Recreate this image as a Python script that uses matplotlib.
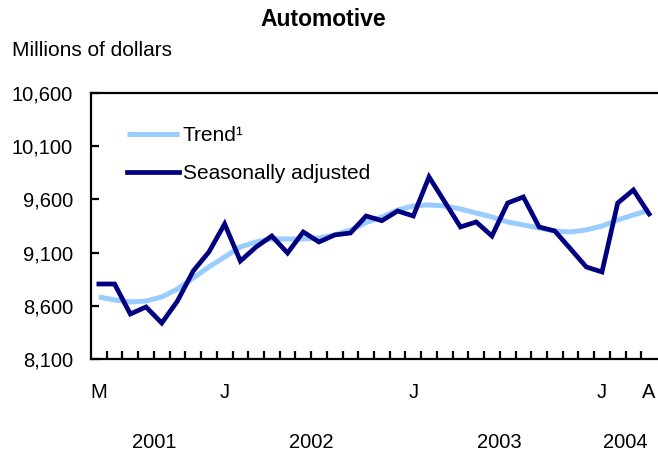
import numpy as np
import matplotlib
matplotlib.use("Agg")
import matplotlib.pyplot as plt
import matplotlib.transforms as mtransforms

plt.rcParams['font.family'] = ['Liberation Sans', 'DejaVu Sans']

# monthly, May 2001 .. April 2004
months = ['M', 'J', 'J', 'A', 'S', 'O', 'N', 'D',
          'J', 'F', 'M', 'A', 'M', 'J', 'J', 'A', 'S', 'O', 'N', 'D',
          'J', 'F', 'M', 'A', 'M', 'J', 'J', 'A', 'S', 'O', 'N', 'D',
          'J', 'F', 'M', 'A']
years = ['2001'] * 8 + ['2002'] * 12 + ['2003'] * 12 + ['2004'] * 4
shown_months = [0, 8, 20, 32, 35]

seasonally_adjusted = [8805, 8805, 8523, 8589, 8438, 8645, 8927, 9106,
                       9369, 9021, 9153, 9256, 9096, 9294, 9200, 9266,
                       9284, 9444, 9400, 9491, 9444, 9811, 9576, 9341,
                       9388, 9256, 9566, 9623, 9341, 9303, 9135, 8965,
                       8918, 9566, 9689, 9463]
trend = [8683, 8655, 8636, 8645, 8683, 8758, 8861, 8965,
         9059, 9153, 9200, 9228, 9228, 9228, 9237, 9266,
         9313, 9383, 9435, 9500, 9538, 9548, 9538, 9510,
         9472, 9435, 9388, 9360, 9331, 9303, 9294, 9313,
         9350, 9407, 9454, 9500]
yticks = [8100, 8600, 9100, 9600, 10100, 10600]

fig = plt.figure(figsize=(6.58, 4.58), dpi=100)
ax = fig.add_axes([91 / 658, 1 - 359 / 458, 566 / 658, 266 / 458])

x = np.arange(len(months))
ax.plot(x, trend, color='#99ccff', lw=3.6, label='Trend\u00b9', solid_capstyle='butt')
ax.plot(x, seasonally_adjusted, color='#000080', lw=3.4, label='Seasonally adjusted',
        solid_joinstyle='miter')

ax.set_xlim(-0.5, len(months) - 0.5)
ax.set_ylim(8100, 10600)
ax.spines['right'].set_visible(False)
for s in ['left', 'top', 'bottom']:
    ax.spines[s].set_linewidth(1.6)

ax.set_yticks(yticks)
ax.set_yticklabels([f'{v:,}' for v in yticks])
ax.tick_params(axis='y', direction='in', length=6, width=1.6, pad=13, labelsize=14.5)

# month boundary ticks, labels on a few months
ax.set_xticks(np.arange(0.5, len(months) - 0.5, 1))
ax.set_xticklabels([])
ax.tick_params(axis='x', which='major', direction='in', length=6, width=1.6)
ax.set_xticks(shown_months, minor=True)
ax.set_xticklabels([months[i] for i in shown_months], minor=True)
ax.tick_params(axis='x', which='minor', length=0, pad=17.5, labelsize=14.5)

trans = mtransforms.blended_transform_factory(ax.transData, fig.transFigure)
for yr in ['2001', '2002', '2003', '2004']:
    idx = [i for i, y in enumerate(years) if y == yr]
    ax.text((idx[0] + idx[-1]) / 2, 1 - 443 / 458, yr, transform=trans,
            ha='center', va='center', fontsize=14.5)

fig.text(323 / 658, 1 - 19 / 458, 'Automotive', ha='center', va='center',
         fontsize=16.5, fontweight='bold')
fig.text(12 / 658, 1 - 50 / 458, 'Millions of dollars', ha='left', va='center',
         fontsize=15)

ax.legend(loc='upper left', bbox_to_anchor=(28 / 566, 1 - 25 / 266), frameon=False,
          fontsize=15, handlelength=2.5, handletextpad=0.15, labelspacing=0.9,
          borderaxespad=0)

fig.savefig('out.png', dpi=100)
